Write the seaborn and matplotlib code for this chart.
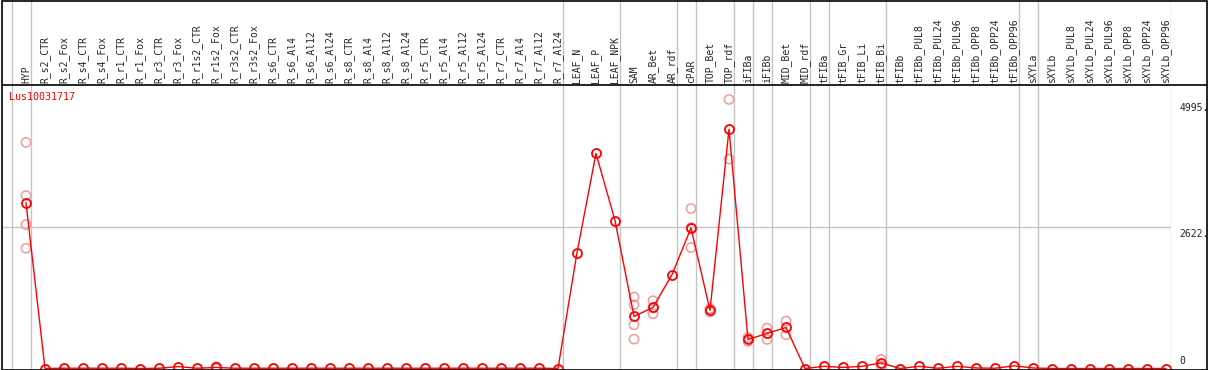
#!/usr/bin/env python3
"""
Expression profile of Lus10031717 across tissues / treatments
"""

import pandas as pd
import matplotlib.pyplot as plt
import seaborn as sns
from matplotlib.lines import Line2D
from matplotlib.patches import Rectangle

gene_name = "Lus10031717"

samples = [
    "HYP", "R_s2_CTR", "R_s2_Fox", "R_s4_CTR", "R_s4_Fox", "R_r1_CTR", "R_r1_Fox",
    "R_r3_CTR", "R_r3_Fox", "R_r1s2_CTR", "R_r1s2_Fox", "R_r3s2_CTR", "R_r3s2_Fox",
    "R_s6_CTR", "R_s6_Al4", "R_s6_Al12", "R_s6_Al24", "R_s8_CTR", "R_s8_Al4",
    "R_s8_Al12", "R_s8_Al24", "R_r5_CTR", "R_r5_Al4", "R_r5_Al12", "R_r5_Al24",
    "R_r7_CTR", "R_r7_Al4", "R_r7_Al12", "R_r7_Al24", "LEAF_N", "LEAF_P", "LEAF_NPK",
    "SAM", "AR_Bet", "AR_rdf", "cPAR", "TOP_Bet", "TOP_rdf", "iFIBa", "iFIBb",
    "MID_Bet", "MID_rdf", "tFIBa", "tFIB_Gr", "tFIB_Li", "tFIB_Bi", "tFIBb",
    "tFIBb_PUL8", "tFIBb_PUL24", "tFIBb_PUL96", "tFIBb_OPP8", "tFIBb_OPP24",
    "tFIBb_OPP96", "sXYLa", "sXYLb", "sXYLb_PUL8", "sXYLb_PUL24", "sXYLb_PUL96",
    "sXYLb_OPP8", "sXYLb_OPP24", "sXYLb_OPP96",
]

mean_values = [
    3078, 0, 5, 5, 5, 5, 0, 5, 35, 5, 20, 5, 5,
    5, 5, 5, 5, 5, 5, 5, 5, 5, 5, 5, 5, 5, 5, 5, 0,
    2151, 3993, 2747, 967, 1134, 1742, 2610, 1079, 4441, 539, 651,
    762, 0, 40, 20, 40, 105, 0, 40, 5, 40, 10, 5, 50,
    10, 0, 0, 0, 0, 0, 0, 0,
]

# individual replicates (only those visible apart from the mean)
rep_samples = [
    "HYP", "HYP", "HYP", "HYP",
    "R_r1s2_Fox", "R_r1s2_Fox",
    "SAM", "SAM", "SAM", "SAM",
    "AR_Bet", "AR_Bet", "AR_Bet",
    "cPAR", "cPAR", "cPAR",
    "TOP_Bet", "TOP_Bet",
    "TOP_rdf", "TOP_rdf",
    "iFIBa", "iFIBa",
    "iFIBb", "iFIBb",
    "MID_Bet", "MID_Bet",
    "tFIB_Bi", "tFIB_Bi",
]
rep_values = [
    4197, 3212, 2672, 2232,
    35, 5,
    1326, 1184, 812, 545,
    1259, 1126, 1017,
    2970, 2616, 2245,
    1110, 1048,
    4995, 3887,
    576, 502,
    750, 539,
    880, 627,
    170, 55,
]

# group separators: a grey line is drawn right after these sample indices
group_breaks = [-1, 0, 28, 31, 34, 35, 37, 38, 39, 41, 42, 45, 52, 53, 60]

W, H = 1209, 370
sns.set_style("white")
plt.rcParams['font.family'] = ['DejaVu Sans Mono', 'DejaVu Sans']

fig = plt.figure(figsize=(W / 100, H / 100), dpi=100)

# pixel layout
px_left, px_right = 2, 1171
px_header = 85
px_plot_top, px_plot_bottom = 86, 368.5

ax = fig.add_axes([px_left / W, (H - px_plot_bottom) / H,
                   (px_right - px_left) / W, (px_plot_bottom - px_plot_top) / H])
hax = fig.add_axes([px_left / W, (H - px_header) / H,
                    (px_right - px_left) / W, px_header / H])

x0 = 26
step = 19
xlim = ((px_left - x0) / step, (px_right - x0) / step)

df = pd.DataFrame({"sample": samples, "value": mean_values})
df["pos"] = range(len(df))
pos_map = dict(zip(df["sample"], df["pos"]))
reps = pd.DataFrame({"sample": rep_samples, "value": rep_values})
reps["pos"] = reps["sample"].map(pos_map)

ymax = max(rep_values + mean_values) * 1.05

for a in (ax, hax):
    for b in group_breaks:
        a.axvline(b + 0.24, color="#c4c4c4", lw=1, zorder=0)
    a.set_xlim(*xlim)
    a.set_xticks([])
    a.set_yticks([])
    for s in a.spines.values():
        s.set_visible(False)

ax.axhline(ymax / 2, color="#c4c4c4", lw=1, zorder=0)

sns.scatterplot(data=reps, x="pos", y="value", ax=ax, marker="o", s=44,
                facecolor="none", edgecolor="#f09a9a", linewidth=1.1, zorder=2)
sns.lineplot(data=df, x="pos", y="value", ax=ax, color="red", lw=1,
             marker="o", markersize=6.5, markerfacecolor="none",
             markeredgecolor="red", markeredgewidth=1.3, zorder=3)

ax.set_ylim(0, ymax)
ax.set_xlim(*xlim)
ax.set_xlabel("")
ax.set_ylabel("")

ytr = ax.get_yaxis_transform()
lab_x = (1179 - px_left) / (px_right - px_left)
ax.text(lab_x, max(rep_values + mean_values) - 60, f"{max(rep_values + mean_values)}.",
        transform=ytr, ha="left", va="top", fontsize=7, clip_on=False)
ax.text(lab_x, ymax / 2 - 40, f"{int(ymax / 2)}.", transform=ytr,
        ha="left", va="top", fontsize=7, clip_on=False)
ax.text(lab_x, 45, "0", transform=ytr, ha="left", va="bottom", fontsize=7,
        clip_on=False)

ax.text(9 / W, (H - 92) / H, gene_name, transform=fig.transFigure, color="red",
        ha="left", va="top", fontsize=7.2)

hax.set_ylim(0, px_header)
for i, name in enumerate(samples):
    hax.text(i, 2, name, rotation=90, ha="center", va="bottom", fontsize=7)

# outer border and header separator
fig.add_artist(Rectangle((1.5 / W, 0.5 / H), (1207 - 1.5) / W, (369 - 0.5) / H,
                         transform=fig.transFigure, fill=False, ec="black", lw=1.2))
fig.add_artist(Line2D([1.5 / W, 1207 / W], [(H - px_header) / H] * 2,
                      transform=fig.transFigure, color="black", lw=1.2))

fig.savefig("out.png", dpi=100)
